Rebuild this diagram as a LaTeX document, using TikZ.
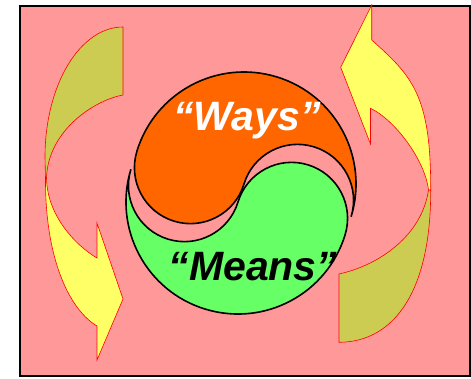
\documentclass[tikz,border=0pt]{standalone}
\usepackage{fontspec}
\setmainfont{Liberation Sans}
\usetikzlibrary{calc}
\definecolor{bgpink}{RGB}{255,153,153}
\definecolor{yyorange}{RGB}{255,102,0}
\definecolor{yygreen}{RGB}{102,255,102}
\definecolor{arryellow}{RGB}{255,255,102}
\definecolor{arrolive}{RGB}{204,204,82}
\tikzset{
  frontpart/.style={fill=arryellow, draw=red, line width=0.6pt, line join=miter},
  backpart/.style={fill=arrolive, draw=red, line width=0.6pt, line join=miter},
  yinpart/.style={draw=black, line width=1.6pt},
  bigword/.style={font=\fontsize{41}{41}\selectfont\bfseries\itshape, inner sep=0pt, anchor=base}
}
\begin{document}
\begin{tikzpicture}[x=1pt,y=1pt]
\useasboundingbox (0,0) rectangle (471,-378);
% background panel
\filldraw[fill=bgpink, draw=black, line width=1.6pt] (20,-6) rectangle (470,-376);

% left curved arrow (back face, then front face)
\filldraw[backpart] (123,-27) .. controls (80,-27) and (45,-85) .. (45,-157)
  -- (45.5,-178) -- (46.5,-178) .. controls (48,-130) and (95,-100) .. (123,-95) -- cycle;
\filldraw[frontpart] (45.5,-178) .. controls (45,-260) and (70,-310) .. (97,-326)
  -- (97,-360) -- (123,-299) -- (97,-223) -- (97,-258)
  .. controls (75,-245) and (47,-215) .. (46.5,-178) -- cycle;

% right curved arrow
\filldraw[backpart] (430.7,-190) .. controls (431,-290) and (395,-342) .. (339,-342.3)
  -- (339,-274) .. controls (380,-265) and (422,-235) .. (428.5,-190) -- cycle;
\filldraw[frontpart] (371.7,-5) -- (340.7,-67.3) -- (370.5,-144) -- (370.5,-108.3)
  .. controls (395,-120) and (425,-160) .. (428.5,-190) -- (430.7,-190)
  .. controls (431,-95) and (412,-76) .. (371.7,-40) -- cycle;

% yin-yang: orange upper piece
\filldraw[yinpart, fill=yyorange] ($(244,-184)+(-17:112)$)
  arc[start angle=-17, end angle=163, radius=112]
  arc[start angle=163, end angle=343, radius=56]
  arc[start angle=163, end angle=-17, radius=56] -- cycle;
% yin-yang: green lower piece
\filldraw[yinpart, fill=yygreen] ($(238,-202)+(163:112)$)
  arc[start angle=163, end angle=343, radius=112]
  arc[start angle=-17, end angle=163, radius=56]
  arc[start angle=-17, end angle=-197, radius=56] -- cycle;

\node[bigword, text=white] (ways) at (247,-130) {“Ways”};
\node[bigword, text=black] (means) at (253,-280.5) {“Means”};
\end{tikzpicture}
\end{document}
